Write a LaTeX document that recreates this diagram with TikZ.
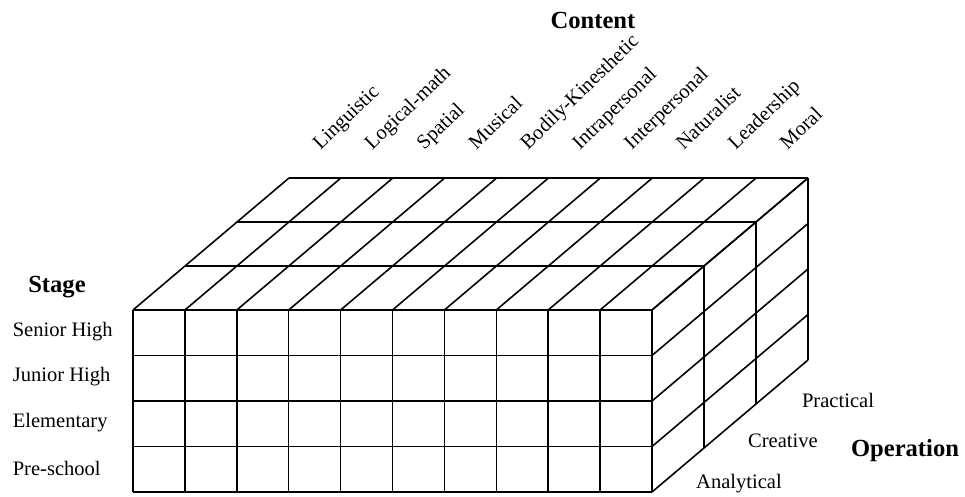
\documentclass[tikz,border=0pt]{standalone}
\usepackage{fontspec}
\setmainfont{Liberation Serif}
\begin{document}
\begin{tikzpicture}
    [x=0.02cm, y=-0.02cm,
    line width=0.9pt,
    etiqueta/.style = {inner sep=0pt,
                font=\fontsize{11.7}{13}\selectfont},
    titulo/.style = {inner sep=0pt,
                font=\fontsize{14}{16}\selectfont\bfseries},
    contenido/.style = {inner sep=0pt, rotate=44, anchor=base west,
                font=\fontsize{11.6}{13}\selectfont}]
    \useasboundingbox (0,0) rectangle (965,497);
    % Front face
    \foreach \i in {0,...,10}
        \draw (133+\i*51.9,310) -- (133+\i*51.9,492);
    \foreach \j in {0,...,4}
        \draw (133,310+\j*45.5) -- (652,310+\j*45.5);
    % Top face
    \foreach \i in {0,...,10}
        \draw (133+\i*51.9,310) -- ++(156,-132);
    \foreach \k in {1,2,3}
        \draw (133+\k*52,310-\k*44) -- (652+\k*52,310-\k*44);
    % Right face
    \foreach \k in {1,2,3}
        \draw (652+\k*52,310-\k*44) -- (652+\k*52,492-\k*44);
    \foreach \j in {0,...,4}
        \draw (652,310+\j*45.5) -- ++(156,-132);
    % Stage
    \node[titulo] (stage) at (57,287) {Stage};
    \node[etiqueta,anchor=west] (senior) at (12,332) {Senior High};
    \node[etiqueta,anchor=west] (junior) at (12,377) {Junior High};
    \node[etiqueta,anchor=west] (elem) at (12,423) {Elementary};
    \node[etiqueta,anchor=west] (pre) at (12,468) {Pre-school};
    % Content
    \node[titulo] (content) at (593,20) {Content};
    \foreach \nombre [count=\i from 0] in {Linguistic, Logical-math, Spatial,
        Musical, Bodily-Kinesthetic, Intrapersonal, Interpersonal,
        Naturalist, Leadership, Moral}
        \node[contenido] (c\i) at (289+\i*51.9+31,151) {\nombre};
    % Operation
    \node[etiqueta] (analytical) at (739,484) {Analytical};
    \node[etiqueta] (creative) at (783,441) {Creative};
    \node[etiqueta] (practical) at (838,400) {Practical};
    \node[titulo] (operation) at (905,451) {Operation};
\end{tikzpicture}
\end{document}
